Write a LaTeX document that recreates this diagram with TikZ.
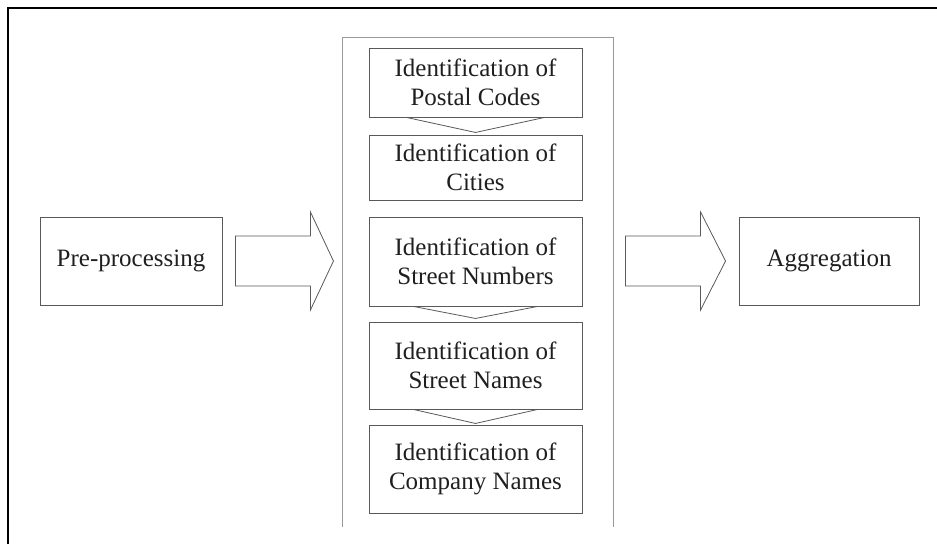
\documentclass[tikz,border=0pt]{standalone}
\usepackage{fontspec}
\setmainfont{Liberation Serif}
\usetikzlibrary{calc}
\definecolor{boxgray}{gray}{0.35}
\definecolor{contgray}{gray}{0.6}
\definecolor{textgray}{gray}{0.12}
\begin{document}
\begin{tikzpicture}[x=1pt,y=-1pt,
  box/.style={draw=boxgray, line width=0.9pt, minimum width=213pt, align=center,
    inner sep=0pt, font=\fontsize{25}{29}\selectfont, text=textgray},
  sidebox/.style={box, minimum height=88pt},
  chev/.style={draw=boxgray, line width=0.8pt},
  fatarrow/.style={draw=boxgray, line width=0.8pt, fill=white, line join=miter},
  contline/.style={draw=contgray, line width=1.2pt}]
\useasboundingbox (0,0) rectangle (937,544);
\draw[line width=2pt] (8,544) -- (8,8) -- (937,8);

\node[minimum width=270pt, minimum height=489pt, inner sep=0pt] (cont) at (478,282.5) {};
\draw[contline] (cont.south west) -- (cont.north west) -- (cont.north east) -- (cont.south east);

\node[box, minimum height=69pt] (b1) at (475.5,82.5) {Identification of\\Postal Codes};
\node[box, minimum height=65pt] (b2) at (475.5,167.5) {Identification of\\Cities};
\node[box, minimum height=89pt] (b3) at (475.5,261.5) {Identification of\\Street Numbers};
\node[box, minimum height=87pt] (b4) at (475.5,365.5) {Identification of\\Street Names};
\node[box, minimum height=88pt] (b5) at (475.5,469) {Identification of\\Company Names};

\draw[chev] ($(b1.south)+(-69,0)$) -- ($(b1.south)+(0,15)$) -- ($(b1.south)+(69,0)$);
\draw[chev] ($(b3.south)+(-62,0)$) -- ($(b3.south)+(0,12)$) -- ($(b3.south)+(62,0)$);
\draw[chev] ($(b4.south)+(-62,0)$) -- ($(b4.south)+(0,14)$) -- ($(b4.south)+(62,0)$);

\node[sidebox, minimum width=182pt] (pre) at (131,261) {Pre-processing};
\node[sidebox, minimum width=180pt] (agg) at (829,261) {Aggregation};

\draw[fatarrow] ($(pre.east)+(13,-25)$) -- ++(75,0) -- ++(0,-24) -- ++(23,49)
  -- ++(-23,49) -- ++(0,-24) -- ++(-75,0) -- cycle;
\draw[fatarrow] ($(agg.west)+(-113,-25)$) -- ++(75,0) -- ++(0,-24) -- ++(25,49)
  -- ++(-25,49) -- ++(0,-24) -- ++(-75,0) -- cycle;
\end{tikzpicture}
\end{document}
